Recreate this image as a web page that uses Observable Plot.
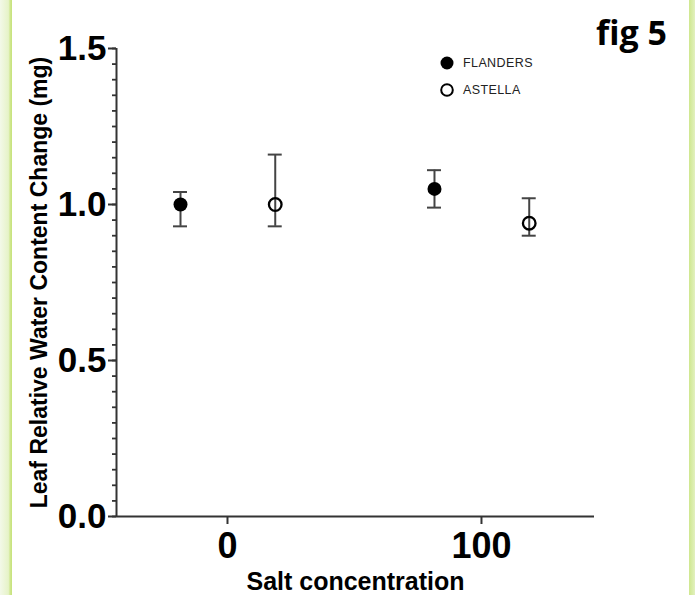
<!DOCTYPE html>
<html>
<head>
<meta charset="utf-8">
<script src="https://cdn.jsdelivr.net/npm/d3@7"></script>
<script src="https://cdn.jsdelivr.net/npm/@observablehq/plot@0.6"></script>
<style>
  html, body { margin: 0; padding: 0; background: #fff; }
  #wrap { position: relative; width: 695px; height: 595px; overflow: hidden; background: #fff; }
  #bandL { position: absolute; left: 0; top: 0; width: 12px; height: 595px;
    background: linear-gradient(to right, #f3f9e8 0%, #e6f3c8 70%, #cfe78e 85%, #c6e27c 100%); }
  #bandR { position: absolute; left: 689px; top: 0; width: 6px; height: 595px;
    background: linear-gradient(to right, #cfe78e 0%, #e2f1c0 100%); }
  #fig { position: absolute; right: 28px; top: 9px; font-family: "Open Sans", sans-serif; font-weight: 700;
    font-size: 34px; color: #000; line-height: 46px; }
  #legend { position: absolute; left: 438px; top: 49px; font-family: "Liberation Sans", Arial, sans-serif;
    font-size: 12.5px; color: #222; letter-spacing: 0.4px; }
  #legend .row { display: flex; align-items: center; height: 27px; }
  #legend svg { margin-right: 7px; }
  #chart { position: absolute; left: 0; top: 0; }
</style>
</head>
<body>
<div id="wrap">
  <div id="chart"></div>
  <div id="bandL"></div>
  <div id="bandR"></div>
  <div id="fig">fig 5</div>
  <div id="legend"></div>
</div>
<script>
// Data
const cultivar = ["FLANDERS", "ASTELLA", "FLANDERS", "ASTELLA"];
const salt = [0, 0, 100, 100];
const xPos = [-18.5, 18.8, 81.5, 118.8];   // dodged plotting positions around each salt level
const mean = [1.00, 1.00, 1.05, 0.94];
const lower = [0.93, 0.93, 0.99, 0.90];
const upper = [1.04, 1.16, 1.11, 1.02];
const xTicks = [0, 100];
const yTicks = [0, 0.5, 1.0, 1.5];
const xDomain = [-43.7, 144.5];
const yDomain = [0, 1.5];
const capHalf = 2.75;

const data = cultivar.map((c, i) => ({
  cultivar: c, salt: salt[i], x: xPos[i], y: mean[i], lo: lower[i], hi: upper[i]
}));
const minorTicks = d3.range(0, 1.5001, 0.05).map(v => +v.toFixed(2));

const font = "Liberation Sans, Arial, sans-serif";

const chart = Plot.plot({
  width: 695,
  height: 595,
  marginLeft: 116,
  marginRight: 101,
  marginTop: 48,
  marginBottom: 79,
  style: { fontFamily: font, background: "transparent", overflow: "visible" },
  x: { domain: xDomain },
  y: { domain: yDomain },
  marks: [
    Plot.axisY({ ticks: minorTicks, tickSize: 4, tickFormat: () => "", label: null, stroke: "#333", strokeWidth: 1.8 }),
    Plot.axisY({ ticks: yTicks, tickSize: 8, tickPadding: 2, tickFormat: d3.format(".1f"),
      fontSize: 35, fontWeight: "bold", fill: "#000", stroke: "#333", strokeWidth: 2,
      label: "Leaf Relative Water Content Change (mg)", labelAnchor: "center", labelArrow: "none", labelOffset: 86 }),
    Plot.axisX({ ticks: xTicks, tickSize: 8, tickPadding: 8, tickFormat: d3.format("d"),
      fontSize: 36, fontWeight: "bold", fill: "#000", stroke: "#333", strokeWidth: 2,
      label: "Salt concentration", labelAnchor: "center", labelArrow: "none", labelOffset: 73 }),
    Plot.ruleX([xDomain[0]], { stroke: "#333", strokeWidth: 2 }),
    Plot.ruleY([yDomain[0]], { stroke: "#333", strokeWidth: 2 }),
    Plot.ruleX(data, { x: "x", y1: "lo", y2: "hi", stroke: "#444", strokeWidth: 2 }),
    Plot.ruleY(data, { y: "hi", x1: d => d.x - capHalf, x2: d => d.x + capHalf, stroke: "#444", strokeWidth: 2 }),
    Plot.ruleY(data, { y: "lo", x1: d => d.x - capHalf, x2: d => d.x + capHalf, stroke: "#444", strokeWidth: 2 }),
    Plot.dot(data.filter(d => d.cultivar === "FLANDERS"), { x: "x", y: "y", r: 7, fill: "#000", stroke: "none" }),
    Plot.dot(data.filter(d => d.cultivar === "ASTELLA"), { x: "x", y: "y", r: 6.3, fill: "none", stroke: "#000", strokeWidth: 2.3 })
  ]
});

// style axis labels
d3.select(chart).selectAll("g[aria-label='y-axis label'] text")
  .attr("font-size", 23).attr("font-weight", "bold").attr("fill", "#000");
d3.select(chart).selectAll("g[aria-label='x-axis label'] text")
  .attr("font-size", 25).attr("font-weight", "bold").attr("fill", "#000");

document.getElementById("chart").appendChild(chart);

// legend
const legend = d3.select("#legend");
["FLANDERS", "ASTELLA"].forEach(name => {
  const row = legend.append("div").attr("class", "row");
  const s = row.append("svg").attr("width", 18).attr("height", 18);
  if (name === "FLANDERS") s.append("circle").attr("cx", 9).attr("cy", 9).attr("r", 6.5).attr("fill", "#000");
  else s.append("circle").attr("cx", 9).attr("cy", 9).attr("r", 5.8).attr("fill", "none").attr("stroke", "#000").attr("stroke-width", 2);
  row.append("span").text(name);
});
</script>
</body>
</html>
